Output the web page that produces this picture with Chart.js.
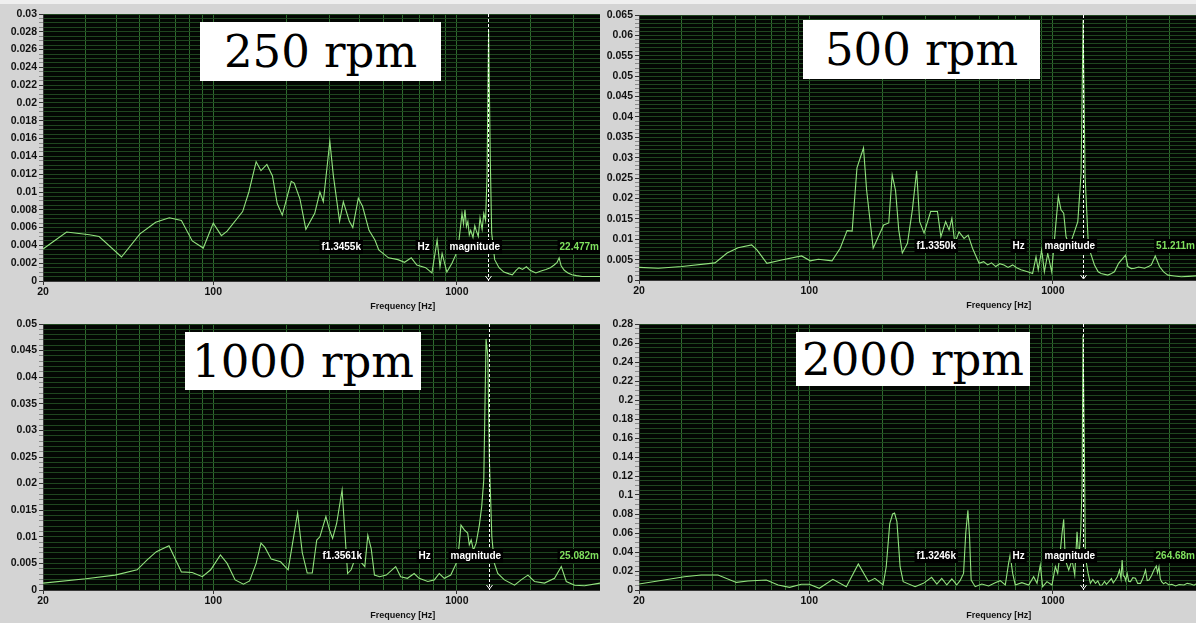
<!DOCTYPE html>
<html>
<head>
<meta charset="utf-8">
<script src="https://cdn.jsdelivr.net/npm/chart.js@4.4.1/dist/chart.umd.min.js"></script>
<style>
  html, body { margin: 0; padding: 0; background: #d4d4d4; }
  #page { position: relative; width: 1196px; height: 623px; overflow: hidden; background: #d4d4d4; }
  #topstrip { position: absolute; left: 0; top: 0; width: 1196px; height: 4px; background: #efefef; }
  .panel { position: absolute; }
  .rpm {
    position: absolute; background: #fff; color: #000;
    font-family: "DejaVu Serif", serif; font-size: 45px;
    display: flex; align-items: center; justify-content: center;
  }
</style>
</head>
<body>
<div id="page">
  <div id="topstrip"></div>
  <div class="panel" style="left:0;top:0"><canvas id="c250" width="600" height="312"></canvas></div>
  <div class="panel" style="left:600px;top:0"><canvas id="c500" width="596" height="312"></canvas></div>
  <div class="panel" style="left:0;top:312px"><canvas id="c1000" width="600" height="311"></canvas></div>
  <div class="panel" style="left:600px;top:312px"><canvas id="c2000" width="596" height="311"></canvas></div>

  <div class="rpm" style="left:200px;top:22px;width:241px;height:59px">250 rpm</div>
  <div class="rpm" style="left:803px;top:20px;width:237px;height:59px">500 rpm</div>
  <div class="rpm" style="left:185px;top:332px;width:236px;height:58px">1000 rpm</div>
  <div class="rpm" style="left:796px;top:332px;width:234px;height:54px">2000 rpm</div>
</div>

<script>
// spectra (Hz, magnitude)
const freq250 = [
  20, 25, 31, 34, 42, 50, 58, 66, 74, 82,
  91, 100, 108, 114, 132, 140, 150, 157, 166, 175,
  183, 192, 209, 215, 227, 240, 261, 274, 283, 301,
  311, 330, 342, 362, 374, 394, 410, 436, 461, 478,
  524, 573, 610, 650, 685, 745, 790, 830, 853, 870,
  910, 955, 1010, 1050, 1065, 1080, 1095, 1110, 1125, 1140,
  1165, 1185, 1200, 1225, 1245, 1270, 1290, 1312, 1330, 1350,
  1372, 1390, 1430, 1490, 1560, 1640, 1690, 1750, 1800, 1860,
  1930, 2000, 2110, 2200, 2320, 2420, 2510, 2580, 2630, 2680,
  2760, 2860, 2970, 3100, 3270, 3500, 3870
];
const mag250 = [
  0.0036, 0.0055, 0.0052, 0.0050, 0.0027, 0.0053, 0.0066, 0.0071, 0.0068, 0.0045,
  0.0037, 0.0065, 0.0051, 0.0056, 0.0078, 0.0100, 0.0134, 0.0124, 0.0131, 0.0118,
  0.0087, 0.0074, 0.0112, 0.0110, 0.0092, 0.0058, 0.0076, 0.0100, 0.0089, 0.0157,
  0.0119, 0.0067, 0.0089, 0.0067, 0.0060, 0.0093, 0.0084, 0.0057, 0.0046, 0.0035,
  0.0026, 0.0024, 0.0021, 0.0026, 0.0018, 0.0015, 0.0009, 0.0046, 0.0016, 0.0031,
  0.0010, 0.0020, 0.0035, 0.0076, 0.0064, 0.0080, 0.0061, 0.0067, 0.0052, 0.0057,
  0.0049, 0.0062, 0.0057, 0.0050, 0.0071, 0.0058, 0.0076, 0.0068, 0.0117, 0.0282,
  0.0136, 0.0054, 0.0024, 0.0015, 0.0010, 0.0008, 0.0007, 0.0012, 0.0015, 0.0013,
  0.0016, 0.0012, 0.0009, 0.0011, 0.0013, 0.0015, 0.0018, 0.0021, 0.0026, 0.0017,
  0.0012, 0.0009, 0.0007, 0.0006, 0.0005, 0.0005, 0.0005
];

const freq500 = [
  20, 24, 30, 41, 46, 51, 58, 61, 67, 77,
  93, 101, 109, 124, 134, 143, 150, 157, 167, 172,
  183, 202, 212, 219, 226, 233, 241, 253, 265, 276,
  284, 296, 315, 336, 347, 363, 375, 385, 396, 412,
  432, 449, 468, 498, 520, 540, 560, 583, 605, 630,
  655, 684, 710, 740, 788, 826, 853, 871, 900, 923,
  953, 989, 1021, 1053, 1080, 1108, 1133, 1160, 1188, 1226,
  1266, 1306, 1331, 1356, 1400, 1482, 1535, 1578, 1682, 1740,
  1790, 1862, 1938, 1988, 2032, 2100, 2165, 2250, 2380, 2480,
  2536, 2633, 2741, 2850, 2970, 3150, 3366, 3600, 3870
];
const mag500 = [
  0.0031, 0.0029, 0.0033, 0.0042, 0.0066, 0.0079, 0.0086, 0.0074, 0.0041, 0.0049,
  0.0059, 0.0047, 0.0051, 0.0047, 0.0078, 0.0121, 0.0120, 0.0275, 0.0324, 0.0220,
  0.0078, 0.0135, 0.0140, 0.0258, 0.0220, 0.0123, 0.0066, 0.0090, 0.0172, 0.0268,
  0.0143, 0.0115, 0.0168, 0.0168, 0.0106, 0.0143, 0.0123, 0.0151, 0.0090, 0.0118,
  0.0102, 0.0110, 0.0078, 0.0041, 0.0045, 0.0037, 0.0042, 0.0033, 0.0040, 0.0037,
  0.0031, 0.0037, 0.0030, 0.0025, 0.0020, 0.0016, 0.0057, 0.0025, 0.0074, 0.0020,
  0.0065, 0.0020, 0.0115, 0.0205, 0.0172, 0.0164, 0.0106, 0.0090, 0.0094, 0.0118,
  0.0143, 0.0262, 0.0638, 0.0255, 0.0082, 0.0037, 0.0020, 0.0016, 0.0012, 0.0016,
  0.0020, 0.0041, 0.0053, 0.0061, 0.0033, 0.0028, 0.0029, 0.0032, 0.0029, 0.0034,
  0.0037, 0.0059, 0.0033, 0.0020, 0.0012, 0.0010, 0.0008, 0.0009, 0.0010
];

const freq1000 = [
  20, 30, 39.5, 48.7, 53.4, 58.4, 65.8, 74, 82, 90.2,
  97.6, 107, 114, 123, 133, 141, 150, 157, 163, 173,
  189, 203, 212, 222, 232, 243, 255, 266, 274, 290,
  300, 309, 321, 338, 348, 356, 368, 385, 403, 419,
  431, 445, 459, 482, 513, 561, 588, 627, 668, 700,
  760, 808, 847, 888, 944, 1008, 1040, 1073, 1108, 1125,
  1145, 1170, 1200, 1237, 1265, 1290, 1318, 1340, 1360, 1392,
  1426, 1472, 1568, 1725, 1836, 1958, 2083, 2290, 2518, 2684,
  2814, 3044, 3345, 3870
];
const mag1000 = [
  0.0013, 0.0021, 0.0028, 0.0038, 0.0056, 0.0072, 0.0083, 0.0034, 0.0033, 0.0025,
  0.0038, 0.0066, 0.0050, 0.0019, 0.0011, 0.0017, 0.0050, 0.0088, 0.0080, 0.0058,
  0.0053, 0.0038, 0.0090, 0.0145, 0.0070, 0.0032, 0.0032, 0.0094, 0.0100, 0.0138,
  0.0113, 0.0097, 0.0125, 0.0188, 0.0100, 0.0031, 0.0038, 0.0063, 0.0053, 0.0044,
  0.0103, 0.0078, 0.0028, 0.0025, 0.0028, 0.0044, 0.0025, 0.0022, 0.0031, 0.0022,
  0.0016, 0.0019, 0.0031, 0.0022, 0.0028, 0.0056, 0.0122, 0.0113, 0.0107, 0.0085,
  0.0094, 0.0075, 0.0088, 0.0122, 0.0157, 0.0207, 0.0472, 0.0440, 0.0245, 0.0100,
  0.0050, 0.0031, 0.0019, 0.0009, 0.0019, 0.0028, 0.0016, 0.0013, 0.0022, 0.0044,
  0.0016, 0.0009, 0.0008, 0.0013
];

const freq2000 = [
  20, 30.7, 36, 42.2, 50.2, 56, 66.6, 74.5, 83, 92.8,
  100, 110, 125, 142, 159, 175, 186, 201, 207, 214,
  220, 224, 229, 236, 243, 272, 294, 318, 334, 350,
  367, 385, 403, 416, 430, 439, 448, 455, 462, 480,
  511, 545, 580, 608, 638, 658, 668, 684, 701, 746,
  796, 834, 861, 888, 908, 946, 992, 1024, 1047, 1074,
  1091, 1108, 1125, 1162, 1199, 1230, 1257, 1278, 1302, 1318,
  1330, 1347, 1360, 1396, 1426, 1460, 1496, 1530, 1560, 1593,
  1630, 1660, 1698, 1740, 1770, 1806, 1840, 1878, 1905, 1925,
  1945, 1968, 1990, 2019, 2050, 2084, 2130, 2184, 2230, 2290,
  2340, 2402, 2440, 2480, 2540, 2600, 2658, 2690, 2727, 2760,
  2795, 2850, 2900, 2998, 3080, 3192, 3300, 3455, 3560, 3678,
  3800, 3870
];
const mag2000 = [
  0.0063, 0.0140, 0.0158, 0.0158, 0.0080, 0.0095, 0.0105, 0.0053, 0.0028, 0.0060,
  0.0060, 0.0018, 0.0112, 0.0035, 0.0274, 0.0088, 0.0123, 0.0053, 0.0245, 0.0700,
  0.0800, 0.0810, 0.0720, 0.0245, 0.0088, 0.0035, 0.0070, 0.0133, 0.0063, 0.0123,
  0.0053, 0.0116, 0.0053, 0.0098, 0.0175, 0.0600, 0.0840, 0.0560, 0.0105, 0.0035,
  0.0063, 0.0042, 0.0077, 0.0098, 0.0053, 0.0280, 0.0370, 0.0175, 0.0053, 0.0077,
  0.0053, 0.0140, 0.0070, 0.0263, 0.0035, 0.0088, 0.0053, 0.0245, 0.0175, 0.0420,
  0.0600, 0.0744, 0.0316, 0.0210, 0.0316, 0.0158, 0.0614, 0.0316, 0.0630, 0.1090,
  0.2680, 0.1500, 0.0350, 0.0175, 0.0070, 0.0110, 0.0070, 0.0095, 0.0050, 0.0053,
  0.0090, 0.0060, 0.0088, 0.0120, 0.0075, 0.0105, 0.0140, 0.0210, 0.0120, 0.0316,
  0.0150, 0.0140, 0.0100, 0.0175, 0.0090, 0.0088, 0.0130, 0.0123, 0.0070, 0.0070,
  0.0120, 0.0210, 0.0100, 0.0105, 0.0150, 0.0210, 0.0253, 0.0180, 0.0245, 0.0120,
  0.0088, 0.0065, 0.0080, 0.0053, 0.0060, 0.0042, 0.0058, 0.0053, 0.0070, 0.0063,
  0.0050, 0.0065
];

// axes
const xLabels = [20, 100, 1000];
const xMin = 20, xMax = 3870;
const yMax = [0.03, 0.065, 0.05, 0.28];
const yMajor = [0.002, 0.005, 0.005, 0.02];
const yMinor = [0.0005, 0.001, 0.001, 0.005];

// cursor readouts
const cursorHz = [1345.5, 1335.0, 1356.1, 1324.6];
const cursorFreqText = ['f1.3455k', 'f1.3350k', 'f1.3561k', 'f1.3246k'];
const cursorMagText = ['22.477m', '51.211m', '25.082m', '264.68m'];

const FONT = '"Liberation Sans", Arial, sans-serif';

const plotBg = {
  id: 'plotBg',
  beforeDraw(chart) {
    const { ctx, chartArea: a } = chart;
    ctx.save();
    ctx.fillStyle = '#030703';
    ctx.fillRect(a.left, a.top, a.right - a.left, a.bottom - a.top);
    ctx.restore();
  }
};

function tag(ctx, text, x, y, color, align) {
  const w = ctx.measureText(text).width;
  const left = align === 'right' ? x - w : x;
  ctx.fillStyle = '#000';
  ctx.fillRect(left - 2, y - 7, w + 4, 14);
  ctx.fillStyle = color;
  ctx.textAlign = 'left';
  ctx.fillText(text, left, y);
}

const cursor = {
  id: 'cursor',
  afterDatasetsDraw(chart, args, opts) {
    const { ctx, chartArea: a, scales: { x } } = chart;
    const px = Math.round(x.getPixelForValue(opts.hz)) + 0.5;
    ctx.save();
    ctx.strokeStyle = '#ffffff';
    ctx.lineWidth = 1;
    ctx.setLineDash([3, 2]);
    ctx.beginPath();
    ctx.moveTo(px, a.top);
    ctx.lineTo(px, a.bottom);
    ctx.stroke();
    ctx.setLineDash([]);
    ctx.beginPath();
    ctx.moveTo(px - 3, a.bottom - 5);
    ctx.lineTo(px, a.bottom - 1);
    ctx.lineTo(px + 3, a.bottom - 5);
    ctx.stroke();

    ctx.font = 'bold 10px ' + FONT;
    ctx.textBaseline = 'middle';
    const y = a.bottom - 34;
    tag(ctx, opts.freqText, px - 167, y, '#ffffff', 'left');
    tag(ctx, 'Hz', px - 71, y, '#ffffff', 'left');
    tag(ctx, 'magnitude', px - 39, y, '#ffffff', 'left');
    tag(ctx, opts.magText, a.right - 1, y, '#7fe05e', 'right');

    ctx.font = 'bold 9px ' + FONT;
    ctx.fillStyle = '#111';
    ctx.textAlign = 'center';
    ctx.fillText('Frequency [Hz]', x.getPixelForValue(600), a.bottom + 26);
    ctx.restore();
  }
};

function isMajor(v, step) {
  const k = v / step;
  return Math.abs(k - Math.round(k)) < 1e-6;
}

function makePanel(id, freq, mag, i, yWidth, padTop, xHeight) {
  new Chart(document.getElementById(id), {
    type: 'line',
    data: {
      datasets: [{
        data: freq.map((f, j) => ({ x: f, y: mag[j] })),
        borderColor: '#93e37f',
        borderWidth: 1.1,
        pointRadius: 0,
        tension: 0
      }]
    },
    options: {
      responsive: false,
      animation: false,
      events: [],
      layout: { padding: { top: padTop, right: 0, bottom: 0, left: 0 } },
      plugins: {
        legend: { display: false },
        tooltip: { enabled: false },
        cursor: { hz: cursorHz[i], freqText: cursorFreqText[i], magText: cursorMagText[i] }
      },
      scales: {
        x: {
          type: 'logarithmic',
          min: xMin,
          max: xMax,
          afterFit: s => { s.height = xHeight; },
          afterBuildTicks: s => {
            s.ticks = s.ticks.filter(t => {
              const m = t.value / Math.pow(10, Math.floor(Math.log10(t.value) + 1e-9));
              return Math.abs(m - Math.round(m)) < 1e-6 && t.value < xMax;
            });
          },
          grid: {
            color: '#2e6b2e',
            lineWidth: 1,
            tickLength: 4,
            tickColor: c => (c.tick && xLabels.includes(c.tick.value)) ? '#333' : 'rgba(0,0,0,0)'
          },
          border: { color: '#3a3a3a' },
          ticks: {
            autoSkip: false,
            maxRotation: 0,
            padding: 1,
            color: '#111',
            font: { family: FONT, size: 10.5, weight: 'bold' },
            callback: v => xLabels.includes(v) ? String(v) : ''
          }
        },
        y: {
          min: 0,
          max: yMax[i],
          afterFit: s => { s.width = yWidth; },
          grid: {
            color: '#1f461f',
            lineWidth: 1,
            tickLength: 4,
            tickColor: c => (c.tick && isMajor(c.tick.value, yMajor[i])) ? '#333' : '#8a8a8a'
          },
          border: { color: '#3a3a3a' },
          ticks: {
            stepSize: yMinor[i],
            autoSkip: false,
            padding: 2,
            color: '#111',
            font: { family: FONT, size: 10.5, weight: 'bold' },
            callback: v => isMajor(v, yMajor[i]) ? String(+v.toFixed(4)) : ''
          }
        }
      }
    },
    plugins: [plotBg, cursor]
  });
}

makePanel('c250', freq250, mag250, 0, 43, 14, 31);
makePanel('c500', freq500, mag500, 1, 39, 15, 32);
makePanel('c1000', freq1000, mag1000, 2, 43, 12, 33);
makePanel('c2000', freq2000, mag2000, 3, 39, 12, 33);
</script>
</body>
</html>
